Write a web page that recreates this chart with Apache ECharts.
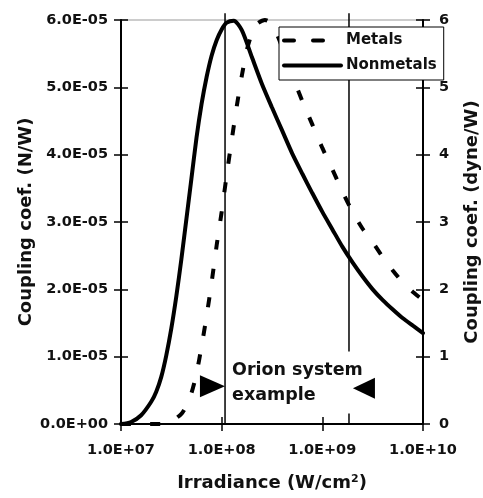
<!DOCTYPE html>
<html>
<head>
<meta charset="utf-8">
<script src="https://cdn.jsdelivr.net/npm/echarts@6/dist/echarts.min.js"></script>
<style>
  html, body { margin: 0; padding: 0; background: #fff; }
  #chart { width: 483px; height: 498px; }
</style>
</head>
<body>
<div id="chart"></div>
<script>
// ---- data -------------------------------------------------------------
// Irradiance in W/cm^2, coupling coefficient in N/W
const metalsIrradiance = [
  1.0e7, 2.0e7, 2.512e7, 3.162e7, 3.981e7, 4.467e7, 5.012e7, 5.623e7, 6.310e7, 7.079e7,
  7.943e7, 8.913e7, 1.0e8, 1.122e8, 1.259e8, 1.413e8, 1.585e8, 1.778e8, 1.995e8, 2.239e8,
  2.692e8, 3.162e8, 3.981e8, 5.012e8, 6.310e8, 7.943e8, 1.0e9, 1.259e9, 1.585e9, 1.995e9,
  2.512e9, 3.162e9, 3.981e9, 5.012e9, 6.310e9, 7.943e9, 1.0e10
];
const metalsCoupling = [
  0, 0, 0, 0.04e-5, 0.15e-5, 0.27e-5, 0.46e-5, 0.75e-5, 1.15e-5, 1.60e-5,
  2.10e-5, 2.65e-5, 3.15e-5, 3.70e-5, 4.22e-5, 4.72e-5, 5.17e-5, 5.55e-5, 5.80e-5, 5.94e-5,
  6.00e-5, 5.94e-5, 5.60e-5, 5.18e-5, 4.80e-5, 4.45e-5, 4.10e-5, 3.78e-5, 3.45e-5, 3.15e-5,
  2.90e-5, 2.70e-5, 2.48e-5, 2.28e-5, 2.10e-5, 1.96e-5, 1.84e-5
];
const nonmetalsIrradiance = [
  1.0e7, 1.259e7, 1.585e7, 1.995e7, 2.239e7, 2.512e7, 2.818e7, 3.162e7, 3.548e7, 3.981e7,
  4.467e7, 5.012e7, 5.623e7, 6.310e7, 7.079e7, 7.943e7, 8.913e7, 1.0e8, 1.122e8, 1.318e8,
  1.585e8, 1.995e8, 2.512e8, 3.162e8, 3.981e8, 5.012e8, 6.310e8, 7.943e8, 1.0e9, 1.259e9,
  1.585e9, 1.995e9, 2.512e9, 3.162e9, 3.981e9, 5.012e9, 6.310e9, 7.943e9, 1.0e10
];
const nonmetalsCoupling = [
  0, 0.03e-5, 0.13e-5, 0.33e-5, 0.48e-5, 0.70e-5, 1.02e-5, 1.42e-5, 1.90e-5, 2.45e-5,
  3.05e-5, 3.65e-5, 4.25e-5, 4.75e-5, 5.15e-5, 5.47e-5, 5.70e-5, 5.86e-5, 5.96e-5, 5.99e-5,
  5.85e-5, 5.45e-5, 5.05e-5, 4.70e-5, 4.36e-5, 4.02e-5, 3.72e-5, 3.43e-5, 3.15e-5, 2.89e-5,
  2.63e-5, 2.40e-5, 2.19e-5, 2.00e-5, 1.84e-5, 1.70e-5, 1.57e-5, 1.46e-5, 1.35e-5
];
// Irradiance bounds of the Orion system example
const orionIrradiance = [1.08e8, 1.84e9];

const seriesNames = ['Metals', 'Nonmetals'];
const xTickLabels = ['1.0E+07', '1.0E+08', '1.0E+09', '1.0E+10'];
const leftTickLabels = ['0.0E+00', '1.0E-05', '2.0E-05', '3.0E-05', '4.0E-05', '5.0E-05', '6.0E-05'];
const rightTickLabels = ['0', '1', '2', '3', '4', '5', '6'];

// ---- styling ----------------------------------------------------------
const FONT = 'DejaVu Sans';
const INK = '#111';
const labelStyle = { fontFamily: FONT, fontWeight: 'bold', fontSize: 14.5, color: INK };
const nameStyle = { fontFamily: FONT, fontWeight: 'bold', fontSize: 18, color: INK };
const axisLine = { show: true, lineStyle: { color: '#000', width: 2 } };
const tickStyle = { color: '#000', width: 1.5 };
const GRID = { left: 121, right: 60, top: 20, bottom: 74 };

const pairs = (xs, ys) => xs.map((x, i) => [x, ys[i]]);
const xLabel = v => xTickLabels[Math.round(Math.log10(v)) - 7];
const leftLabel = v => leftTickLabels[Math.round(v / 1e-5)];
const rightLabel = v => rightTickLabels[Math.round(v)];

const chart = echarts.init(document.getElementById('chart'), null, { renderer: 'canvas' });

chart.setOption({
  animation: false,
  backgroundColor: '#fff',
  grid: [
    Object.assign({ show: true, borderColor: '#999', borderWidth: 1, backgroundColor: 'transparent', containLabel: false, outerBoundsMode: 'none' }, GRID),
    Object.assign({ show: false, containLabel: false, outerBoundsMode: 'none' }, GRID)
  ],
  legend: {
    data: seriesNames,
    orient: 'vertical',
    left: 279, top: 27,
    padding: [6, 7, 7, 3],
    itemWidth: 57, itemHeight: 18, itemGap: 10,
    backgroundColor: '#fff',
    borderColor: '#000', borderWidth: 1,
    itemStyle: { opacity: 0 },
    lineStyle: { width: 4, cap: 'round' },
    textStyle: { fontFamily: FONT, fontWeight: 'bold', fontSize: 15, color: INK },
    selectedMode: false
  },
  xAxis: [
    {
      gridIndex: 0, type: 'log', logBase: 10, min: 1e7, max: 1e10, splitNumber: 3,
      position: 'bottom',
      axisLine: axisLine,
      axisTick: { show: true, inside: false, length: 7, lineStyle: tickStyle },
      minorTick: { show: false },
      splitLine: { show: false },
      axisLabel: Object.assign({ margin: 19, formatter: xLabel }, labelStyle),
      name: 'Irradiance (W/cm{sup|2})',
      nameLocation: 'middle', nameGap: 50,
      nameTextStyle: Object.assign({
        rich: { sup: { fontFamily: FONT, fontWeight: 'bold', fontSize: 11, color: INK, verticalAlign: 'top', padding: [0, 0, 8, 0] } }
      }, nameStyle)
    },
    {
      gridIndex: 1, type: 'log', logBase: 10, min: 1e7, max: 1e10, splitNumber: 3,
      position: 'bottom',
      axisLine: { show: false },
      axisTick: { show: true, inside: true, length: 7, lineStyle: tickStyle },
      splitLine: { show: false },
      axisLabel: { show: false }
    }
  ],
  yAxis: [
    {
      gridIndex: 0, type: 'value', min: 0, max: 6e-5, interval: 1e-5, position: 'left',
      axisLine: axisLine,
      axisTick: { show: true, inside: false, length: 7, lineStyle: tickStyle },
      splitLine: { show: false },
      axisLabel: Object.assign({ margin: 13, formatter: leftLabel }, labelStyle),
      name: 'Coupling coef. (N/W)', nameLocation: 'middle', nameGap: 86,
      nameMoveOverlap: false,
      nameTextStyle: nameStyle
    },
    {
      gridIndex: 0, type: 'value', min: 0, max: 6, interval: 1, position: 'right',
      axisLine: axisLine,
      axisTick: { show: true, inside: false, length: 7, lineStyle: tickStyle },
      splitLine: { show: false },
      axisLabel: Object.assign({ margin: 16, formatter: rightLabel }, labelStyle),
      name: 'Coupling coef. (dyne/W)', nameLocation: 'middle', nameGap: 40,
      nameMoveOverlap: false,
      nameTextStyle: nameStyle
    },
    {
      gridIndex: 1, type: 'value', min: 0, max: 6e-5, interval: 1e-5, position: 'left',
      axisLine: { show: false },
      axisTick: { show: true, inside: true, length: 7, lineStyle: tickStyle },
      splitLine: { show: false },
      axisLabel: { show: false }
    },
    {
      gridIndex: 1, type: 'value', min: 0, max: 6, interval: 1, position: 'right',
      axisLine: { show: false },
      axisTick: { show: true, inside: true, length: 7, lineStyle: tickStyle },
      splitLine: { show: false },
      axisLabel: { show: false }
    }
  ],
  series: [
    {
      name: seriesNames[0], type: 'line', xAxisIndex: 0, yAxisIndex: 0,
      data: pairs(metalsIrradiance, metalsCoupling),
      showSymbol: false, symbol: 'none', smooth: 0.25, z: 2,
      lineStyle: { color: '#000', width: 4, type: [10, 19] },
      itemStyle: { color: '#000' }
    },
    {
      name: seriesNames[1], type: 'line', xAxisIndex: 0, yAxisIndex: 0,
      data: pairs(nonmetalsIrradiance, nonmetalsCoupling),
      showSymbol: false, symbol: 'none', smooth: 0.25, z: 2,
      lineStyle: { color: '#000', width: 4, type: 'solid', cap: 'round' },
      itemStyle: { color: '#000' }
    },
    // vertical bounds of the Orion example, reaching slightly above the frame
    ...orionIrradiance.map(x => ({
      type: 'line', xAxisIndex: 0, yAxisIndex: 0, silent: true, clip: false,
      data: [[x, 0], [x, 6.1e-5]],
      symbol: 'none', z: 2,
      lineStyle: { color: '#000', width: 1.5 }
    })),
    // annotation text, boxed in white so it interrupts the right bound
    {
      type: 'scatter', xAxisIndex: 0, yAxisIndex: 0, silent: true, z: 3,
      symbolSize: 0,
      itemStyle: { opacity: 1 },
      data: [[orionIrradiance[0], 0.616e-5]],
      label: {
        show: true, position: 'right', distance: 5,
        formatter: 'Orion system\nexample',
        fontFamily: FONT, fontWeight: 'bold', fontSize: 17.5, lineHeight: 25, color: INK,
        align: 'left', backgroundColor: '#fff', padding: [4, 4, 8, 2]
      }
    },
    // arrowheads pointing at the two bounds
    {
      type: 'scatter', xAxisIndex: 0, yAxisIndex: 0, silent: true, z: 4,
      symbol: 'triangle',
      itemStyle: { color: '#000', opacity: 1 },
      data: [
        { value: [8.1e7, 0.56e-5], symbolRotate: -90, symbolSize: [22, 25] },
        { value: [2.59e9, 0.53e-5], symbolRotate: 90, symbolSize: [21, 22] }
      ]
    }
  ]
});
</script>
</body>
</html>
